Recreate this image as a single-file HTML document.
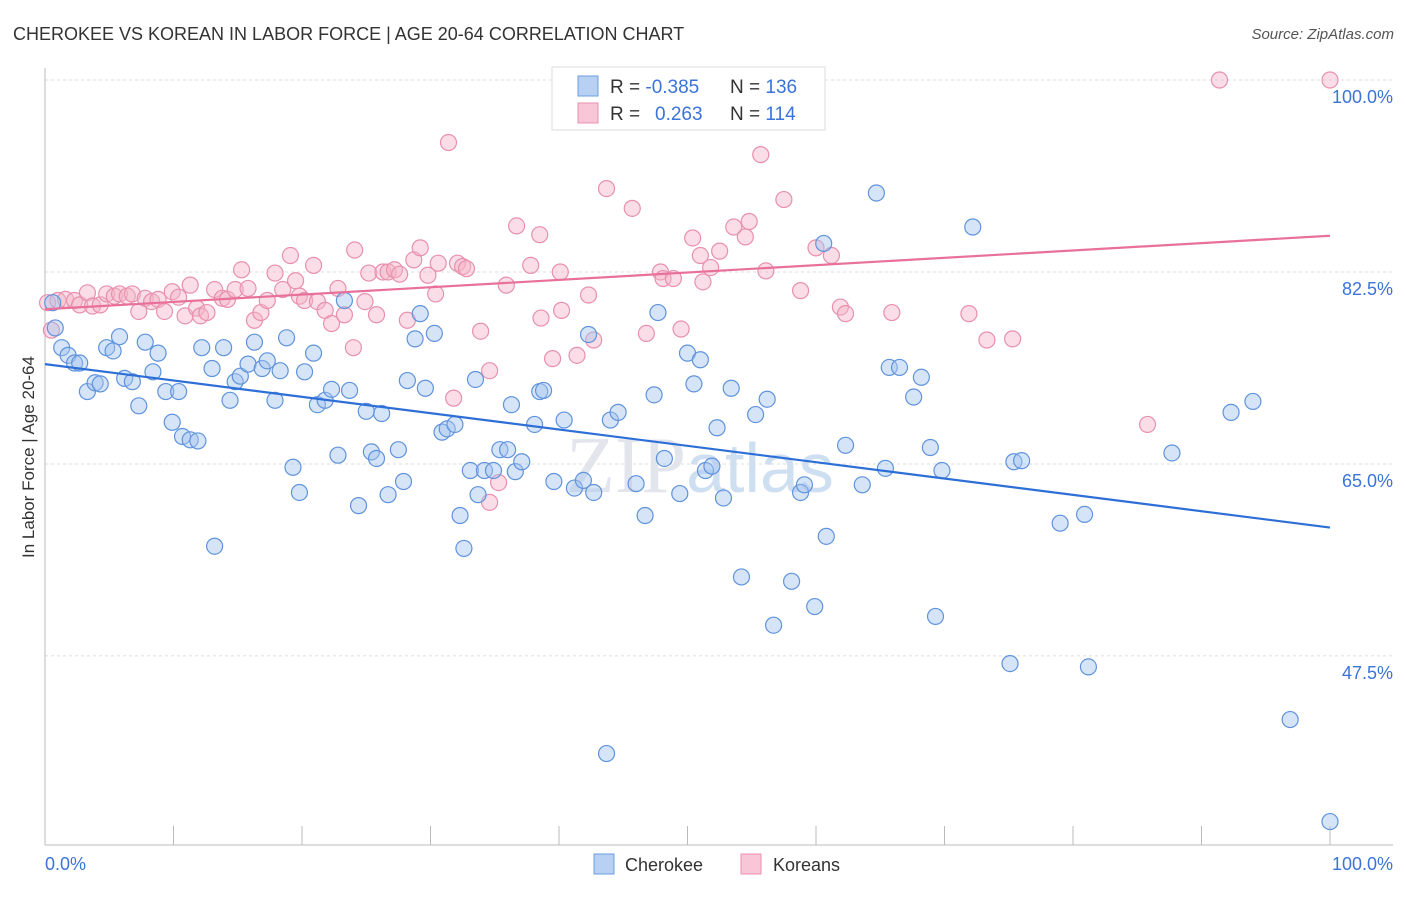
<!DOCTYPE html>
<html><head><meta charset="utf-8"><style>
body{margin:0;background:#fff;font-family:"Liberation Sans",sans-serif;}
</style></head><body>
<svg id="chart" width="1406" height="892" xmlns="http://www.w3.org/2000/svg" font-family="Liberation Sans, sans-serif">
<text x="13" y="40" font-size="18" fill="#333">CHEROKEE VS KOREAN IN LABOR FORCE | AGE 20-64 CORRELATION CHART</text>
<text x="1394" y="39" font-size="15" fill="#555" text-anchor="end" font-style="italic">Source: ZipAtlas.com</text>
<text x="700" y="492" font-size="80" fill="#e2e6ec" text-anchor="middle" font-family="Liberation Serif, serif">ZIP<tspan fill="#cfdff2" font-family="Liberation Sans, sans-serif" font-size="70">atlas</tspan></text>
<g id="grid"></g><g id="axes"></g><g id="marks"></g><g id="trends"></g>
<text transform="translate(34,457) rotate(-90)" font-size="17" fill="#333" text-anchor="middle">In Labor Force | Age 20-64</text>
<text x="45" y="870" font-size="18" fill="#3b73d9">0.0%</text>
<text x="1393" y="870" font-size="18" fill="#3b73d9" text-anchor="end">100.0%</text>
<g>
<rect x="552" y="67" width="273" height="63" fill="#fff" stroke="#ddd"/>
<rect x="578" y="76" width="20" height="20" fill="#b8d1f3" stroke="#6b9de0"/>
<rect x="578" y="103" width="20" height="20" fill="#f8c6d6" stroke="#e890ae"/>
<text x="610" y="93" font-size="19" fill="#333">R = <tspan fill="#3b73d9">-0.385</tspan><tspan x="730">N = </tspan><tspan fill="#3b73d9">136</tspan></text>
<text x="610" y="120" font-size="19" fill="#333">R = <tspan fill="#3b73d9" x="655">0.263</tspan><tspan x="730">N = </tspan><tspan fill="#3b73d9">114</tspan></text>
</g>
<g>
<rect x="594" y="854" width="20" height="20" fill="#b8d1f3" stroke="#6b9de0"/>
<text x="625" y="871" font-size="18" fill="#333">Cherokee</text>
<rect x="741" y="854" width="20" height="20" fill="#f8c6d6" stroke="#e890ae"/>
<text x="773" y="871" font-size="18" fill="#333">Koreans</text>
</g>
</svg>
<script>
const yTicks=[100,82.5,65,47.5];
const yTickLabels=["100.0%","82.5%","65.0%","47.5%"];
const xTicks=[10,20,30,40,50,60,70,80,90,100];
const cherokeeX=[0.6,0.8,1.3,1.8,2.3,2.7,3.3,3.9,4.3,4.8,5.3,5.8,6.2,6.8,7.3,7.8,8.4,8.8,9.4,9.9,10.4,10.7,11.3,11.9,12.2,13.0,13.2,13.9,14.4,14.8,15.2,15.8,16.3,16.9,17.3,17.9,18.3,18.8,19.3,19.8,20.2,20.9,21.2,21.8,22.3,22.8,23.3,23.7,24.4,25.0,25.4,25.8,26.2,26.7,27.5,27.9,28.2,28.8,29.2,29.6,30.3,30.9,31.3,31.9,32.3,32.6,33.1,33.5,33.7,34.2,34.9,35.4,36.0,36.3,36.6,37.1,38.1,38.5,38.8,39.6,40.4,41.2,41.9,42.3,42.7,43.7,44.0,44.6,46.0,46.7,47.4,47.7,48.2,49.4,50.0,50.5,51.0,51.4,51.9,52.3,52.8,53.4,54.2,55.3,56.2,56.7,58.1,58.8,59.1,59.9,60.6,60.8,62.3,63.6,64.7,65.4,65.7,66.5,67.6,68.2,68.9,69.3,69.8,72.2,75.1,75.4,76.0,79.0,80.9,81.2,87.7,92.3,94.0,96.9,100,44.7,53.5];
const cherokeeY=[79.7,77.4,75.6,74.9,74.2,74.2,71.6,72.4,72.3,75.6,75.3,76.6,72.8,72.5,70.3,76.1,73.4,75.1,71.6,68.8,71.6,67.5,67.2,67.1,75.6,73.7,57.5,75.6,70.8,72.5,73.0,74.1,76.1,73.7,74.4,70.8,73.5,76.5,64.7,62.4,73.4,75.1,70.4,70.8,71.8,65.8,79.9,71.7,61.2,69.8,66.1,65.5,69.6,62.2,66.3,63.4,72.6,76.4,78.7,71.9,76.9,67.9,68.2,68.6,60.3,57.3,64.4,72.7,62.2,64.4,64.4,66.3,66.3,70.4,64.3,65.2,68.6,71.6,71.7,63.4,69.0,62.8,63.5,76.8,62.4,38.6,69.0,69.7,63.2,60.3,71.3,78.8,65.5,62.3,75.1,72.3,74.5,64.4,64.8,68.3,61.9,71.9,54.7,69.5,70.9,50.3,54.3,62.4,63.1,52.0,85.1,58.4,66.7,63.1,89.7,64.6,73.8,73.8,71.1,72.9,66.5,51.1,64.4,86.6,46.8,65.2,65.3,59.6,60.4,46.5,66.0,69.7,70.7,41.7,32.4,100,100];
const koreansX=[0.2,0.5,1.0,1.6,2.3,2.7,3.3,3.7,4.3,4.8,5.4,5.8,6.4,6.8,7.3,7.8,8.3,8.8,9.3,9.9,10.4,10.9,11.3,11.8,12.1,12.6,13.2,13.8,14.2,14.8,15.3,15.8,16.3,16.8,17.3,17.9,18.5,19.1,19.5,19.8,20.2,20.9,21.2,21.8,22.3,22.8,23.3,24.0,24.1,24.9,25.2,25.8,26.3,26.7,27.2,27.6,28.2,28.7,29.2,29.8,30.4,30.6,31.4,31.8,32.1,32.5,32.8,33.9,34.6,35.3,35.9,36.7,37.8,38.5,38.6,39.5,40.1,40.2,41.4,42.3,42.7,43.7,45.7,46.8,47.9,48.1,48.9,49.5,50.4,51.0,51.2,51.8,52.5,53.6,54.5,54.8,55.7,56.1,57.5,58.8,60.0,61.2,61.9,62.3,65.9,71.9,73.3,75.3,85.8,91.4,100,40.7,34.6];
const koreansY=[79.7,77.2,79.9,80.0,79.9,79.5,80.6,79.4,79.5,80.5,80.3,80.5,80.3,80.5,78.9,80.1,79.8,80.0,78.9,80.7,80.2,78.5,81.3,79.2,78.5,78.8,80.9,80.1,80.0,80.9,82.7,81.0,78.1,78.8,79.9,82.4,80.9,84.0,81.7,80.3,79.9,83.1,79.8,79.0,77.8,81.0,78.6,75.6,84.5,79.8,82.4,78.6,82.5,82.5,82.7,82.3,78.1,83.6,84.7,82.2,80.5,83.3,94.3,71.0,83.3,83.0,82.8,77.1,73.5,63.3,81.3,86.7,83.1,85.9,78.3,74.6,82.5,79.0,74.9,80.4,76.3,90.1,88.3,76.9,82.5,81.9,81.9,77.3,85.6,84.0,81.6,82.9,84.4,86.6,85.7,87.1,93.2,82.6,89.1,80.8,84.7,84.0,79.3,78.7,78.8,78.7,76.3,76.4,68.6,100,100,100,61.5];
const cherokeeTrend=[74.1,59.2];
const koreansTrend=[79.1,85.8];
const NS="http://www.w3.org/2000/svg";
const X0=45,X1=1330,Y100=80,PXPER=10.97;
function sx(v){return X0+(X1-X0)*v/100;}
function sy(v){return Y100+(100-v)*PXPER;}
function mk(tag,attrs,parent){const e=document.createElementNS(NS,tag);for(const k in attrs)e.setAttribute(k,attrs[k]);parent.appendChild(e);return e;}
const grid=document.getElementById('grid'),axes=document.getElementById('axes'),marks=document.getElementById('marks'),trends=document.getElementById('trends');
yTicks.forEach((t,i)=>{
 const l=mk('line',{x1:45,x2:1393,y1:sy(t),y2:sy(t),stroke:'#ddd','stroke-dasharray':'3,3'},grid);
 
 
 const tx=mk('text',{x:1393,y:sy(t)+23,'font-size':18,fill:'#3b73d9','text-anchor':'end'},grid);
 tx.textContent=yTickLabels[i];
 
 
});
const ya=mk('line',{x1:45,x2:45,y1:68,y2:845,stroke:'#bbb'},axes);


const xa=mk('line',{x1:45,x2:1393,y1:845,y2:845,stroke:'#bbb'},axes);


xTicks.forEach(t=>{
 const l=mk('line',{x1:sx(t),x2:sx(t),y1:826,y2:845,stroke:'#bbb'},axes);
 
 
});
function dots(xs,ys,fill,stroke,name){
 xs.forEach((x,i)=>{
  const c=mk('circle',{cx:sx(x),cy:sy(ys[i]),r:8,fill:fill,'fill-opacity':0.45,stroke:stroke,'stroke-width':1.2},marks);
  
  
 });
}
dots(koreansX,koreansY,'#f4b3c8','#e890ae','korean-point');
dots(cherokeeX,cherokeeY,'#a3c3ef','#5f93dc','cherokee-point');
const t1=mk('line',{x1:sx(0),y1:sy(cherokeeTrend[0]),x2:sx(100),y2:sy(cherokeeTrend[1]),stroke:'#2d6fd6','stroke-width':2.2},trends);


const t2=mk('line',{x1:sx(0),y1:sy(koreansTrend[0]),x2:sx(100),y2:sy(koreansTrend[1]),stroke:'#e8709a','stroke-width':2.2},trends);


</script>
</body></html>
